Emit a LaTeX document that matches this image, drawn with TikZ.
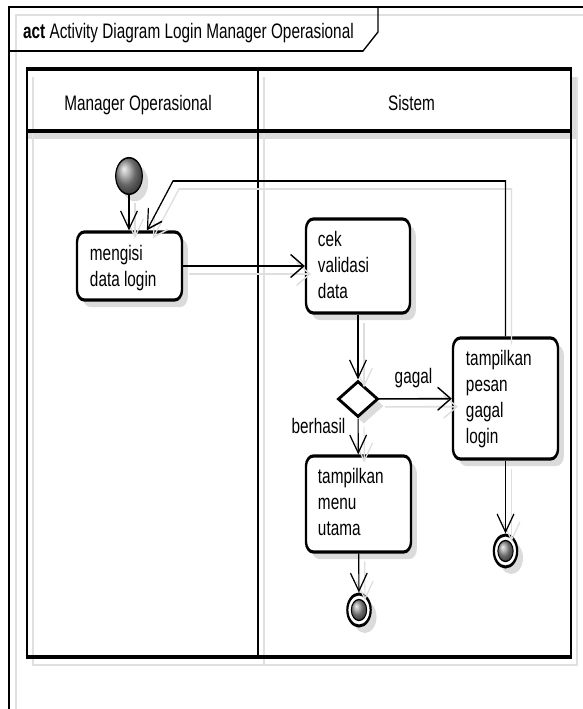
\documentclass[tikz,border=0pt]{standalone}
\usepackage{fontspec}
\setmainfont{Liberation Sans}
\usetikzlibrary{arrows.meta,shapes.geometric,shadows,calc,fit}

\tikzset{
  frameline/.style={line width=2pt, black},
  paleline/.style={line width=1.6pt, black!12},
  laneline/.style={line width=3.5pt, black},
  boxshadow/.style={drop shadow={shadow xshift=8pt, shadow yshift=-7pt, fill=black!14, opacity=1}},
  actbox/.style={draw, line width=3.2pt, rounded corners=10pt, fill=white, inner sep=0pt, boxshadow},
  boxtext/.style={anchor=north west, inner sep=0pt, align=left},
  lbl/.style={anchor=base, inner sep=0pt},
  conn/.style={line width=1.6pt, black, -{Straight Barb[length=18pt, width=23pt, line width=1.6pt]}},
  connshadow/.style={line width=1.6pt, black!13, -{Straight Barb[length=18pt, width=23pt, line width=1.6pt]}},
  decision/.style={diamond, draw, line width=3.2pt, fill=white, inner sep=0pt, minimum width=54.8pt, minimum height=36pt, boxshadow},
  startnode/.style={circle, draw, line width=1.6pt, minimum size=36.5pt, inner sep=0pt, ball color=black!42, boxshadow},
  endnode/.style={circle, draw, line width=3pt, minimum size=32pt, inner sep=0pt, fill=white, boxshadow},
  endball/.style={ball color=black!42, draw=black, line width=1.3pt},
}

\newcommand\connlines[1]{%
  \draw[#1] (init) -- (init |- mengisi.north);
  \draw[#1] (pesan.north) |- (lp) -- ($(mengisi.north west)+(71,0)$);
  \draw[#1] (mengisi) -- (cek);
  \draw[#1] (cek) -- (dec);
  \draw[#1] (dec) -- (pesan);
  \draw[#1] (dec) -- (menu);
  \draw[#1] (menu) -- (fin1);
  \draw[#1] (pesan) -- (fin2);
}

\begin{document}
\begin{tikzpicture}[x=1pt,y=-1pt]
\fill[white] (0,0) rectangle (583,709);
\useasboundingbox (0,0) rectangle (583,709);
\begin{scope}[x=1.369863pt, y=-1pt, transform canvas={xscale=0.73}, font=\fontsize{21}{26}\selectfont]
  % outer frame
  \draw[paleline] (16,709) -- (16,15) -- (583,15);
  \draw[frameline] (9,709) -- (9,7) -- (583,7);
  \draw[line width=1.6pt] (378,7) -- (378,32) -- (363,51) -- (9,51);
  \node[anchor=base west, inner sep=0pt] (title) at (23,38) {\textbf{act} Activity Diagram Login Manager Operasional};

  % swimlanes shadow
  \fill[black!14] (27,131) rectangle (577,139);
  \fill[black!14] (571,77) rectangle (577,139);
  \draw[paleline] (33,77) -- (33,665) -- (577,665) -- (577,77);
  \draw[paleline] (264,77) -- (264,665);
  % swimlanes
  \draw[laneline] (27,69) rectangle (571,657);
  \draw[laneline] (258,69) -- (258,657);
  \draw[laneline] (27,131) -- (571,131);
  \node[lbl] (lane1) at (138,110) {Manager Operasional};
  \node[lbl] (lane2) at (411.5,110) {Sistem};

  % nodes
  \node[startnode] (init) at (129,176) {};
  \node[actbox, fit={(77,232) (182,300)}] (mengisi) {};
  \node[actbox, fit={(306,219) (410,313)}] (cek) {};
  \node[decision] (dec) at (358,399) {};
  \node[actbox, fit={(453,338) (558,459)}] (pesan) {};
  \node[actbox, fit={(306,456) (411,552)}] (menu) {};
  \node[endnode] (fin1) at (359,610) {};
  \shade[endball] (fin1.center) circle (10.5pt);
  \node[endnode] (fin2) at (505.5,551) {};
  \shade[endball] (fin2.center) circle (10.5pt);
  \coordinate (lp) at (173,181);

  \node[boxtext] (t1) at ($(mengisi.north west)+(14,15)$) {mengisi\\data login};
  \node[boxtext] (t2) at ($(cek.north west)+(13,14)$) {cek\\validasi\\data};
  \node[boxtext] (t3) at ($(pesan.north west)+(14,14)$) {tampilkan\\pesan\\gagal\\login};
  \node[boxtext] (t4) at ($(menu.north west)+(13,14)$) {tampilkan\\menu\\utama};

  % connectors
  \begin{scope}[transform canvas={shift={(6,8)}}]
    \connlines{connshadow}
  \end{scope}
  \connlines{conn}

  \node[lbl] (gagal) at (413.5,383) {gagal};
  \node[lbl] (berhasil) at (318.5,433) {berhasil};
\end{scope}
\end{tikzpicture}
\end{document}
